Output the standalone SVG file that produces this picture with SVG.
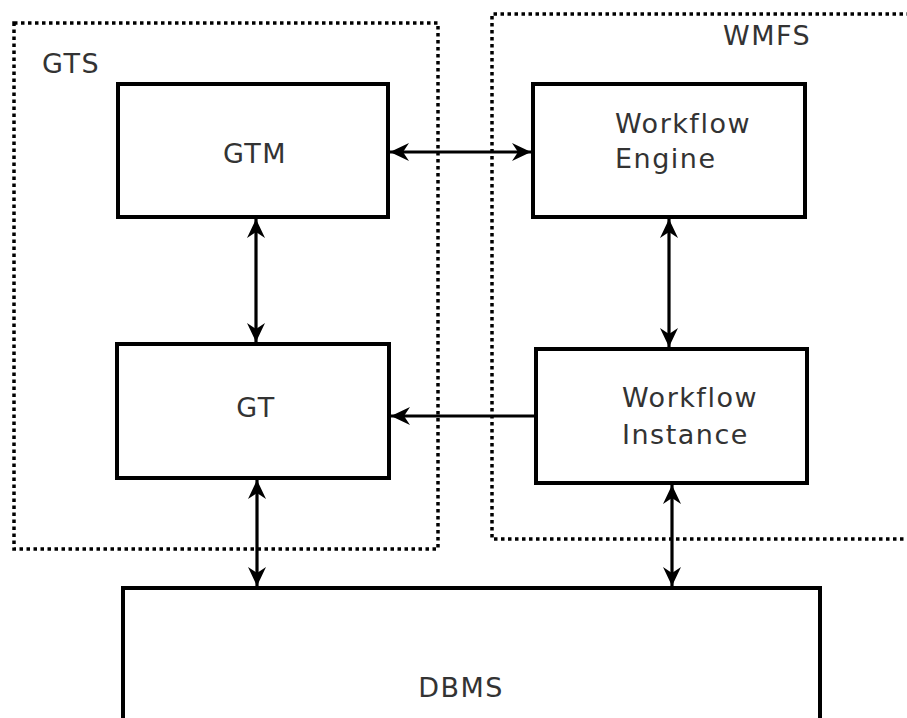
<svg xmlns="http://www.w3.org/2000/svg" width="907" height="718" viewBox="0 0 907 718">
<defs>
<marker id="ah" markerWidth="22" markerHeight="20" refX="19" refY="10" orient="auto-start-reverse" markerUnits="userSpaceOnUse">
<path d="M0,1 L19,10 L0,19 L6,10 Z" fill="#000"/>
</marker>
<style>
.grp{fill:none;stroke:#000;stroke-width:3.5;stroke-dasharray:3.5,3.5}
.box{fill:#fff;stroke:#000;stroke-width:4}
.t{font-family:"DejaVu Sans",sans-serif;font-size:27px;letter-spacing:1.5px;fill:#333}
.c{fill:none;stroke:#000;stroke-width:3.2}
</style>
</defs>
<rect width="907" height="718" fill="#fff"/>
<g id="GTS">
<rect class="grp" x="14" y="23" width="424" height="526"/>
<text class="t" x="42" y="73">GTS</text>
</g>
<g id="WMFS">
<path class="grp" d="M910,14 H492 V539 H910"/>
<text class="t" x="723" y="45">WMFS</text>
</g>
<g id="GTM">
<rect class="box" x="118" y="84" width="270" height="133"/>
<text class="t" x="255" y="163" text-anchor="middle">GTM</text>
</g>
<g id="WorkflowEngine">
<rect class="box" x="533" y="84" width="272" height="133"/>
<text class="t" x="615" y="133">Workflow</text>
<text class="t" x="615" y="168">Engine</text>
</g>
<g id="GT">
<rect class="box" x="117" y="344" width="272" height="134"/>
<text class="t" x="256" y="417" text-anchor="middle">GT</text>
</g>
<g id="WorkflowInstance">
<rect class="box" x="536" y="349" width="271" height="134"/>
<text class="t" x="622" y="407">Workflow</text>
<text class="t" x="622" y="444">Instance</text>
</g>
<g id="DBMS">
<rect class="box" x="123" y="588" width="697" height="140"/>
<text class="t" x="461" y="697" text-anchor="middle">DBMS</text>
</g>
<g id="connectors">
<line class="c" x1="390" y1="152" x2="531" y2="152" marker-start="url(#ah)" marker-end="url(#ah)"/>
<line class="c" x1="256" y1="219" x2="256" y2="342" marker-start="url(#ah)" marker-end="url(#ah)"/>
<line class="c" x1="669" y1="219" x2="669" y2="347" marker-start="url(#ah)" marker-end="url(#ah)"/>
<line class="c" x1="535" y1="416" x2="391" y2="416" marker-end="url(#ah)"/>
<line class="c" x1="257" y1="480" x2="257" y2="586" marker-start="url(#ah)" marker-end="url(#ah)"/>
<line class="c" x1="672" y1="485" x2="672" y2="586" marker-start="url(#ah)" marker-end="url(#ah)"/>
</g>
</svg>
